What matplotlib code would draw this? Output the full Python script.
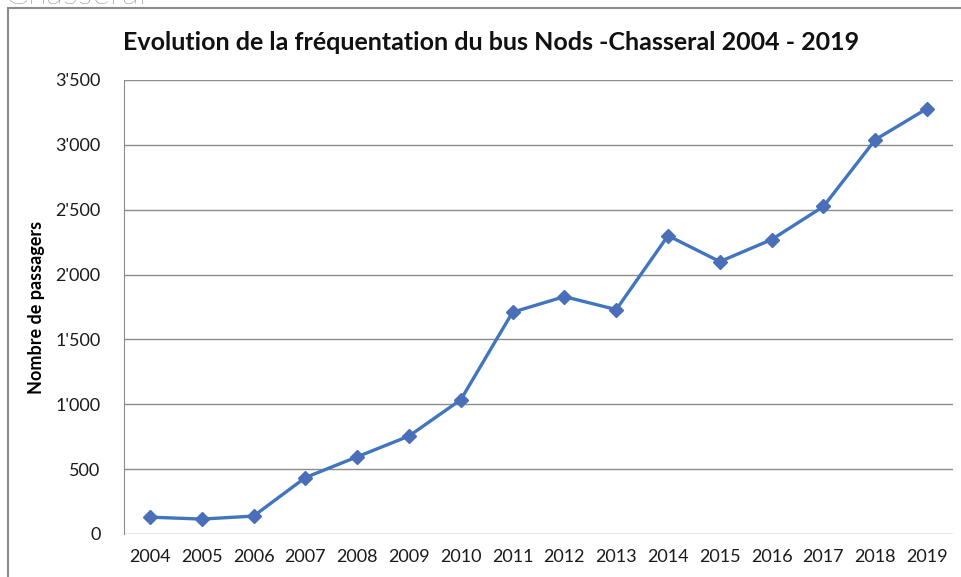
import matplotlib.pyplot as plt
from matplotlib.patches import Rectangle
from matplotlib.ticker import FuncFormatter

# =============================================================================
# DONNEES
# =============================================================================
annees = ['2004', '2005', '2006', '2007', '2008', '2009', '2010', '2011',
          '2012', '2013', '2014', '2015', '2016', '2017', '2018', '2019']
passagers = [130, 115, 138, 435, 595, 755, 1035, 1710,
             1830, 1730, 2300, 2100, 2270, 2525, 3040, 3280]

titre = "Evolution de la fréquentation du bus Nods -Chasseral 2004 - 2019"
label_y = "Nombre de passagers"

# =============================================================================
# FIGURE
# =============================================================================
fig = plt.figure(figsize=(9.62, 5.77), dpi=100)
ax = fig.add_axes([124 / 962, 1 - 534 / 577, 829 / 962, 454 / 577])

# cadre gris autour du graphique (coupé à droite et en bas)
fig.patches.append(Rectangle((8 / 962, -0.05), 1.2, 1.05 - 8 / 577,
                             transform=fig.transFigure, fill=False,
                             edgecolor='#8a8a8a', linewidth=1.5))

# texte coupé en haut à gauche
fig.text(0.005, 1 - 4 / 577, "Chasseral", fontsize=25, family='Lato',
         fontweight='light', color='#555555', va='baseline', ha='left')

x = range(len(annees))
ax.plot(x, passagers, color='#4175be', linewidth=2.4, marker='D',
        markersize=7.5, markerfacecolor='#4a6fb8', markeredgecolor='#4a6fb8',
        zorder=3)

ax.set_xlim(-0.5, len(annees) - 0.5)
ax.set_ylim(0, 3500)
ax.set_yticks(range(0, 3501, 500))
ax.yaxis.set_major_formatter(FuncFormatter(lambda v, p: f"{int(v):,}".replace(',', "'")))
ax.set_xticks(list(x))
ax.set_xticklabels(annees)

ax.grid(axis='y', color='#8c8c8c', linewidth=1.0)
ax.set_axisbelow(True)
for s in ['top', 'right', 'bottom']:
    ax.spines[s].set_visible(False)
ax.spines['left'].set_color('#8c8c8c')
ax.tick_params(axis='both', length=0, labelsize=13, colors='#1a1a1a')
ax.tick_params(axis='y', pad=17)
ax.tick_params(axis='x', pad=11)
for lab in ax.get_xticklabels() + ax.get_yticklabels():
    lab.set_family('Lato')

ax.set_ylabel(label_y, fontsize=13, fontweight='bold', family='Lato')
ax.yaxis.set_label_coords((45 - 124) / 829, 0.5)

fig.text(491.5 / 962, 1 - 42 / 577, titre, fontsize=18, fontweight='bold',
         family='Lato', ha='center', va='center', color='#111111')

plt.savefig("out.png", dpi=100)
